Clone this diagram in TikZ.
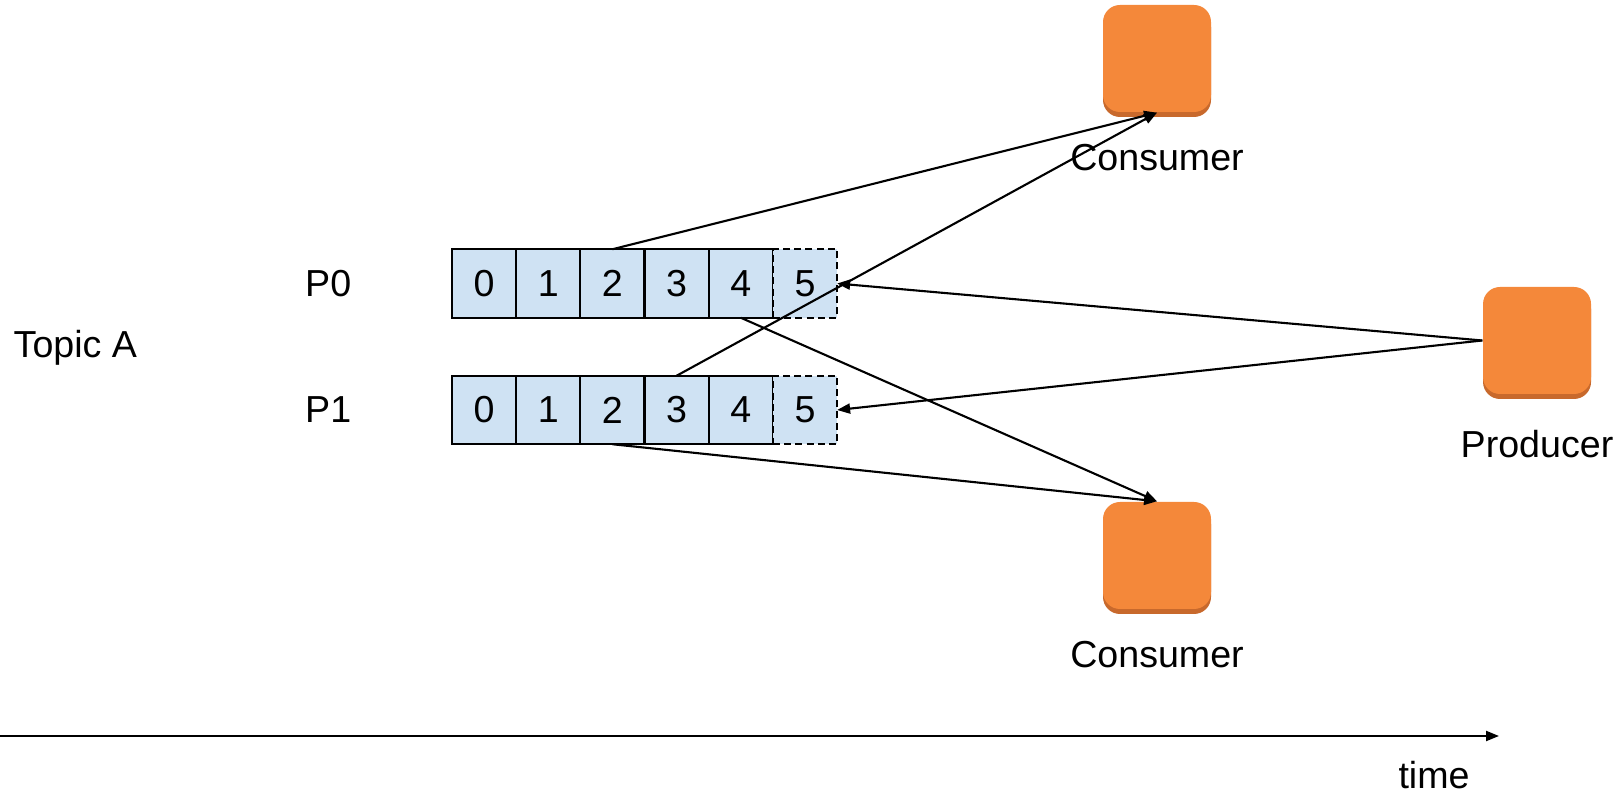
\documentclass[tikz,border=0pt]{standalone}
\usepackage{fontspec}
\setmainfont{Liberation Sans}
\usetikzlibrary{positioning,shadows,arrows.meta}

\definecolor{cellblue}{HTML}{CFE2F3}
\definecolor{awsorange}{HTML}{F4883A}
\definecolor{awsshade}{HTML}{C8692C}

\begin{document}
\begin{tikzpicture}[
	every node/.style={font=\fontsize{10.7}{12.8}\selectfont},
	offset/.style={draw,fill=cellblue,line width=0.6pt,minimum width=0.642cm,minimum height=0.685cm,inner sep=0pt,outer sep=0pt},
	pending/.style={offset,dash pattern=on 2pt off 1.2pt},
	client/.style={fill=awsorange,rounded corners=0.17cm,minimum width=1.08cm,minimum height=1.07cm,
		general shadow={fill=awsshade,shadow yshift=-0.05cm}},
	caption/.style={inner sep=0pt},
	link/.style={line width=0.6pt,-{Triangle[length=0.13cm,width=0.1cm]}}
]
	\useasboundingbox (0,0) rectangle (16.23,-7.95);

	% partitions of the topic
	\foreach \p/\y in {0/-2.835,1/-4.10} {
		\node[offset] (p\p-0) at (4.84,\y) {0};
		\foreach \i [count=\j from 0] in {1,...,4}
			\node[offset,right=0pt of p\p-\j] (p\p-\i) {\i};
		\node[pending,right=0pt of p\p-4] (p\p-5) {5};
		\node[caption,left=1cm of p\p-0] {P\p};
	}
	\node[caption,anchor=base west] (topic) at (0.13,-3.58) {Topic A};

	% clients
	\node[client] (cons1) at (11.57,-0.585) {};
	\node[caption,below=0.31cm of cons1] (cons1label) {Consumer};
	\node[client] (cons2) at (11.57,-5.555) {};
	\node[caption,below=0.31cm of cons2] (cons2label) {Consumer};
	\node[client] (prod) at (15.37,-3.405) {};
	\node[caption,below=0.35cm of prod] (prodlabel) {Producer};

	\draw[link] (p0-2.north) -- (cons1.south);
	\draw[link] (p1-3.north) -- (cons1.south);
	\draw[link] (prod.west) -- (p0-5.east);
	\draw[link] (prod.west) -- (p1-5.east);
	\draw[link] (p0-4.south) -- (cons2.north);
	\draw[link] (p1-2.south) -- (cons2.north);

	% time axis
	\coordinate (t0) at (0,-7.36);
	\coordinate (t1) at (14.99,-7.36);
	\draw[link] (t0) -- (t1);
	\node[caption,anchor=base] (timelabel) at (14.34,-7.88) {time};
\end{tikzpicture}
\end{document}
